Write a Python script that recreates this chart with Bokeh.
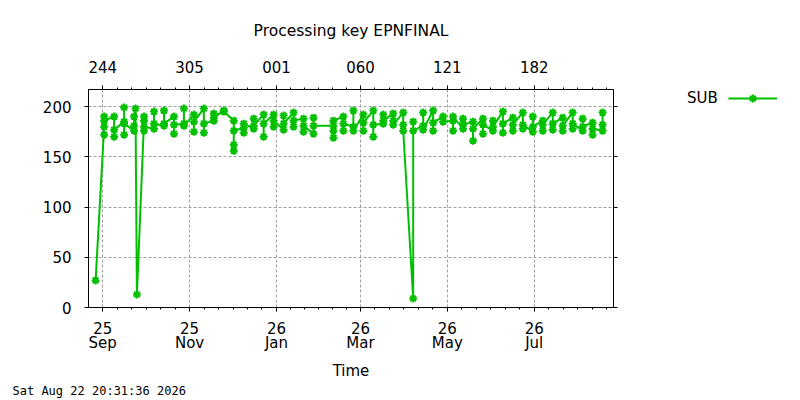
from datetime import datetime

from bokeh.embed import file_html
from bokeh.layouts import row
from bokeh.models import (ColumnDataSource, FixedTicker, Legend, LegendItem,
                          LinearAxis, Range1d, Title)
from bokeh.plotting import figure
from bokeh.resources import INLINE

chart_title = "Processing key EPNFINAL"
stamp = "Sat Aug 22 20:31:36 2026"
GREEN = "#00c000"
FONT = "DejaVu Sans"

# run dates and the SUB counts found in each run
run_dates = ["2025-08-27", "2025-09-02", "2025-09-09", "2025-09-16", "2025-09-23",
             "2025-09-24", "2025-09-25", "2025-09-30", "2025-10-07", "2025-10-14",
             "2025-10-21", "2025-10-28", "2025-11-04", "2025-11-11", "2025-11-18",
             "2025-11-25", "2025-12-02", "2025-12-09", "2025-12-16", "2025-12-23",
             "2025-12-30", "2026-01-06", "2026-01-13", "2026-01-20", "2026-01-27",
             "2026-02-10", "2026-02-17", "2026-02-24", "2026-03-03", "2026-03-10",
             "2026-03-17", "2026-03-24", "2026-03-31", "2026-04-07", "2026-04-14",
             "2026-04-21", "2026-04-28", "2026-05-05", "2026-05-12", "2026-05-19",
             "2026-05-26", "2026-06-02", "2026-06-09", "2026-06-16", "2026-06-23",
             "2026-06-30", "2026-07-07", "2026-07-14", "2026-07-21", "2026-07-28",
             "2026-08-04", "2026-08-11", "2026-08-18"]
run_counts = [[27], [180, 190, 172, 186], [190, 170, 177], [185, 199, 172, 183],
              [176, 190, 181], [198], [13], [186, 176, 190, 180], [178, 195, 183],
              [181, 196, 183], [190, 173, 182], [183, 198, 181], [192, 175, 185],
              [198, 174, 183], [186, 193, 189], [196, 195], [186, 162, 156, 176],
              [179, 174, 183], [178, 188, 181], [192, 170, 183], [192, 180, 186],
              [177, 191, 183], [194, 180, 186], [188, 175, 181], [173, 189, 181],
              [181, 169, 176, 186], [190, 176, 183], [180, 196, 176], [192, 176, 184],
              [196, 170, 182], [183, 192, 186], [193, 186, 182], [194, 182, 176],
              [9, 185, 176], [181, 194, 177], [196, 176, 184], [190, 185],
              [186, 176, 190], [178, 188, 182], [185, 166, 178], [188, 173, 182],
              [176, 186, 180], [195, 174, 183], [189, 176, 182], [194, 178, 182],
              [175, 190, 180], [186, 176, 182], [194, 177, 183], [189, 176, 181],
              [194, 178, 183], [176, 188, 180], [184, 172, 178], [176, 194, 182]]

tick_dates = ["2025-09-01", "2025-11-01", "2026-01-01", "2026-03-01", "2026-05-01", "2026-07-01"]
bottom_labels = ["25\nSep", "25\nNov", "26\nJan", "26\nMar", "26\nMay", "26\nJul"]
top_labels = ["244", "305", "001", "060", "121", "182"]
y_ticks = [0, 50, 100, 150, 200]

EPOCH = datetime(1970, 1, 1)


def ms(d):
    return (datetime.fromisoformat(d) - EPOCH).total_seconds() * 1000


xs, ys = [], []
for d, counts in zip(run_dates, run_counts):
    for c in counts:
        xs.append(datetime.fromisoformat(d))
        ys.append(c)
source = ColumnDataSource(dict(date=xs, sub=ys))

major = [ms(d) for d in tick_dates]
minor = []
for a, b in zip(major, major[1:]):
    minor += [a + k * (b - a) / 6 for k in range(1, 6)]
step = (major[1] - major[0]) / 6
minor += [major[0] - k * step for k in range(1, 6)]
step = (major[-1] - major[-2]) / 6
minor += [major[-1] + k * step for k in range(1, 7)]
x_ticker = FixedTicker(ticks=major, minor_ticks=minor)
y_ticker = FixedTicker(ticks=y_ticks, minor_ticks=[])

p = figure(width=620, height=400, x_axis_type="datetime",
           x_range=Range1d(datetime(2025, 8, 22), datetime(2026, 8, 25, 16)),
           y_range=Range1d(0, 217),
           min_border_left=88, min_border_right=7, min_border_top=89, min_border_bottom=93,
           output_backend="svg", toolbar_location=None)

p.title.text = chart_title
p.title.align = "center"
p.title.text_font = FONT
p.title.text_font_size = "15.5px"
p.title.text_font_style = "normal"
p.title.text_color = "black"
p.title.standoff = 35

p.outline_line_color = "black"
p.outline_line_alpha = 1

line_r = p.line("date", "sub", source=source, color=GREEN, line_width=2)
dots_r = p.scatter("date", "sub", source=source, marker="asterisk", size=8,
                   line_color=GREEN, line_width=2)


def style_axis(ax):
    ax.axis_line_color = "black"
    ax.major_tick_line_color = "black"
    ax.minor_tick_line_color = "black"
    ax.major_tick_in = 0
    ax.major_tick_out = 4
    ax.minor_tick_in = 0
    ax.minor_tick_out = 2
    ax.major_label_text_font = FONT
    ax.major_label_text_font_size = "15px"
    ax.major_label_text_color = "black"


xa = p.xaxis[0]
xa.ticker = x_ticker
xa.major_label_overrides = {t: lab for t, lab in zip(major, bottom_labels)}
style_axis(xa)
xa.major_label_standoff = 8
xa.major_label_text_line_height = 0.83
xa.axis_label = "Time"
xa.axis_label_text_font = FONT
xa.axis_label_text_font_size = "15px"
xa.axis_label_text_font_style = "normal"
xa.axis_label_text_color = "black"
xa.axis_label_standoff = 7

top = LinearAxis(ticker=x_ticker, major_label_overrides={t: lab for t, lab in zip(major, top_labels)})
style_axis(top)
top.major_label_standoff = 13
p.add_layout(top, "above")

ya = p.yaxis[0]
ya.ticker = y_ticker
style_axis(ya)
ya.major_label_standoff = 13

right = LinearAxis(ticker=y_ticker, major_label_overrides={t: "" for t in y_ticks})
style_axis(right)
right.major_label_standoff = 0
p.add_layout(right, "right")

p.xgrid.ticker = x_ticker
p.ygrid.ticker = y_ticker
p.grid.grid_line_color = "#a0a0a0"
p.grid.grid_line_dash = "3 2"
p.grid.grid_line_width = 1

p.add_layout(Title(text=stamp, align="left", vertical_align="top", offset=-76, standoff=0,
                   text_font="DejaVu Sans Mono", text_font_size="12px",
                   text_font_style="normal", text_color="black"), "below")

# key panel to the right of the plot: text first, sample after it.
# the key renderers share the data but the panel's ranges keep them out of view
key = figure(width=180, height=400, min_border=0, x_axis_location=None,
             y_axis_location=None, x_range=Range1d(0, 1), y_range=Range1d(0, 1),
             output_backend="svg", toolbar_location=None)
key.grid.visible = False
key.outline_line_color = None
key_line = key.line("date", "sub", source=source, color=GREEN, line_width=2)
key_dots = key.scatter("date", "sub", source=source, marker="asterisk", size=8,
                       line_color=GREEN, line_width=2)
legend = Legend(items=[LegendItem(label="SUB", renderers=[]),
                       LegendItem(label="", renderers=[key_line, key_dots])],
                orientation="horizontal", location=(13, 199),
                glyph_width=49, glyph_height=20, label_standoff=5, spacing=10,
                padding=0, margin=0, border_line_color=None, background_fill_alpha=0,
                label_text_font=FONT, label_text_font_size="15px", label_text_color="black")
key.add_layout(legend)

open("out.html", "w").write(file_html(row(p, key), INLINE))
